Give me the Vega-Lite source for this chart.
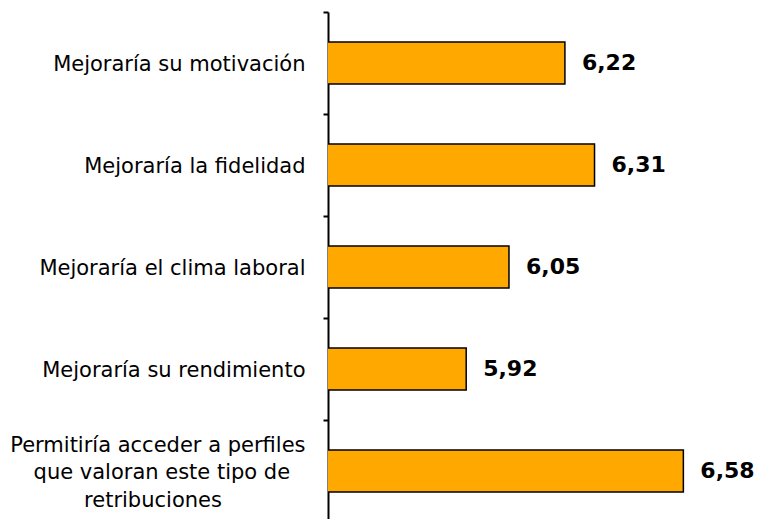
{
  "$schema": "https://vega.github.io/schema/vega-lite/v6.json",
  "autosize": "none",
  "width": 435,
  "height": 510,
  "padding": {"left": 328, "top": 12, "right": 0, "bottom": 0},
  "background": "white",
  "config": {
    "view": {"stroke": null},
    "locale": {"number": {"decimal": ",", "thousands": ".", "grouping": [3], "currency": ["", " €"]}},
    "font": "DejaVu Sans"
  },
  "data": {
    "values": [
      {"item": "Mejoraría su motivación", "valor": 6.22},
      {"item": "Mejoraría la fidelidad", "valor": 6.31},
      {"item": "Mejoraría el clima laboral", "valor": 6.05},
      {"item": "Mejoraría su rendimiento", "valor": 5.92},
      {"item": "Permitiría acceder a perfiles|que valoran este tipo de|retribuciones", "valor": 6.58}
    ]
  },
  "encoding": {
    "y": {
      "field": "item",
      "type": "nominal",
      "sort": null,
      "scale": {"paddingInner": 0, "paddingOuter": 0},
      "axis": {
        "title": null,
        "domainColor": "black",
        "domainWidth": 2,
        "tickColor": "black",
        "tickWidth": 2,
        "tickSize": 5,
        "tickBand": "extent",
        "labelFontSize": 21,
        "labelColor": "black",
        "labelLimit": 400,
        "labelLineHeight": 27.5,
        "labelPadding": 18,
        "labelOffset": -26,
        "labelExpr": "indexof(datum.label, '|') >= 0 ? [split(datum.label, '|')[0], split(datum.label, '|')[1] + '\u2800', split(datum.label, '|')[2] + '\u00a0\u2800\u2800\u2800\u2800\u2800'] : ['', datum.label]"
      }
    }
  },
  "layer": [
    {
      "mark": {"type": "bar", "fill": "#FFA800", "stroke": "black", "strokeWidth": 1.5, "clip": true, "height": {"band": 0.41}},
      "encoding": {
        "x": {"field": "valor", "type": "quantitative", "scale": {"domain": [5.5, 6.822], "zero": false, "nice": false}, "axis": null}
      }
    },
    {
      "mark": {"type": "text", "align": "left", "baseline": "middle", "dx": 17, "fontSize": 22, "fontWeight": "bold", "color": "black"},
      "encoding": {
        "x": {"field": "valor", "type": "quantitative"},
        "text": {"field": "valor", "type": "quantitative", "format": ".2f"}
      }
    }
  ]
}
